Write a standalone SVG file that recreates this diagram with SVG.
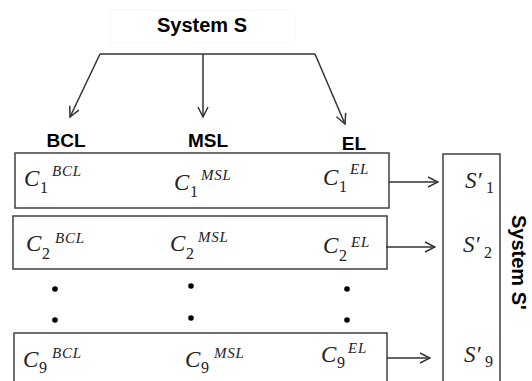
<svg xmlns="http://www.w3.org/2000/svg" width="532" height="381" viewBox="0 0 532 381">
<style>
.lbl{font-family:"Liberation Sans",Arial,sans-serif;font-weight:bold;fill:#000}
.m{font-family:"Liberation Serif","Times New Roman",serif;font-style:italic;font-size:23px;fill:#222}
.sup{font-family:"Liberation Serif","Times New Roman",serif;font-style:italic;font-size:15px;letter-spacing:0.8px;fill:#222}
.sub{font-family:"Liberation Serif","Times New Roman",serif;font-size:16px;fill:#222}
.box{fill:#fff;stroke:#404040;stroke-width:1.5}
.ln{fill:none;stroke:#333;stroke-width:1.5}
.dot{fill:#000}
</style>
<defs>
<marker id="ah" viewBox="0 0 12 12" refX="11" refY="6" markerWidth="12" markerHeight="12" markerUnits="userSpaceOnUse" orient="auto">
<path d="M1,1 L11,6 L1,11" fill="none" stroke="#333" stroke-width="1.5"/>
</marker>
</defs>
<rect width="532" height="381" fill="#fff"/>

<g id="systemS">
<rect x="110" y="10" width="185" height="33" fill="#fff" stroke="#f8f8f8" stroke-width="1"/>
<text class="lbl" x="202" y="32" font-size="20" text-anchor="middle">System S</text>
</g>

<g id="labels">
<text class="lbl" x="66" y="147" font-size="19" text-anchor="middle">BCL</text>
<text class="lbl" x="208" y="147" font-size="19" text-anchor="middle">MSL</text>
<text class="lbl" x="354" y="150" font-size="19" text-anchor="middle">EL</text>
</g>

<g id="row1">
<rect class="box" x="15" y="153" width="374" height="55"/>
<text class="m" x="24" y="186">C</text><text class="sub" x="40" y="193">1</text><text class="sup" x="52" y="176">BCL</text>
<text class="m" x="174" y="190">C</text><text class="sub" x="190" y="197">1</text><text class="sup" x="201" y="180">MSL</text>
<text class="m" x="323" y="185">C</text><text class="sub" x="339" y="192">1</text><text class="sup" x="350" y="174">EL</text>
</g>

<g id="row2">
<rect class="box" x="13" y="216" width="374" height="53"/>
<text class="m" x="26" y="251">C</text><text class="sub" x="42" y="259">2</text><text class="sup" x="55" y="243">BCL</text>
<text class="m" x="170" y="251">C</text><text class="sub" x="186" y="259">2</text><text class="sup" x="198" y="242">MSL</text>
<text class="m" x="323" y="253">C</text><text class="sub" x="339" y="261">2</text><text class="sup" x="351" y="247">EL</text>
</g>

<g id="dots">
<circle class="dot" cx="55" cy="289" r="2.8"/><circle class="dot" cx="55" cy="320" r="2.8"/>
<circle class="dot" cx="191" cy="286" r="2.8"/><circle class="dot" cx="191" cy="318" r="2.8"/>
<circle class="dot" cx="347" cy="289" r="2.8"/><circle class="dot" cx="347" cy="320" r="2.8"/>
<circle class="dot" cx="476" cy="284" r="2.8"/><circle class="dot" cx="476" cy="315" r="2.8"/>
</g>

<g id="row9">
<rect class="box" x="14" y="333" width="373" height="60"/>
<text class="m" x="23" y="367">C</text><text class="sub" x="39" y="373">9</text><text class="sup" x="52" y="358">BCL</text>
<text class="m" x="185" y="367">C</text><text class="sub" x="201" y="373">9</text><text class="sup" x="214" y="358">MSL</text>
<text class="m" x="321" y="362">C</text><text class="sub" x="337" y="368">9</text><text class="sup" x="348" y="353">EL</text>
</g>

<g id="systemSprime">
<rect class="box" x="443" y="154" width="57" height="240"/>
<text class="m" x="465" y="188">S′</text><text class="sub" x="486" y="193">1</text>
<text class="m" x="463" y="252">S′</text><text class="sub" x="484" y="258">2</text>
<text class="m" x="464" y="362">S′</text><text class="sub" x="485" y="367">9</text>
<text class="lbl" font-size="20" transform="translate(512,215) rotate(90)">System S'</text>
</g>

<g id="connectors">
<line class="ln" x1="100" y1="54" x2="315" y2="54"/>
<line class="ln" x1="100" y1="54" x2="70" y2="117" marker-end="url(#ah)"/>
<line class="ln" x1="203" y1="54" x2="203" y2="117" marker-end="url(#ah)"/>
<line class="ln" x1="315" y1="54" x2="345" y2="124" marker-end="url(#ah)"/>
<line class="ln" x1="389" y1="182" x2="438" y2="182" marker-end="url(#ah)"/>
<line class="ln" x1="386" y1="247" x2="435" y2="247" marker-end="url(#ah)"/>
<line class="ln" x1="387" y1="358" x2="430" y2="358" marker-end="url(#ah)"/>
</g>
</svg>
